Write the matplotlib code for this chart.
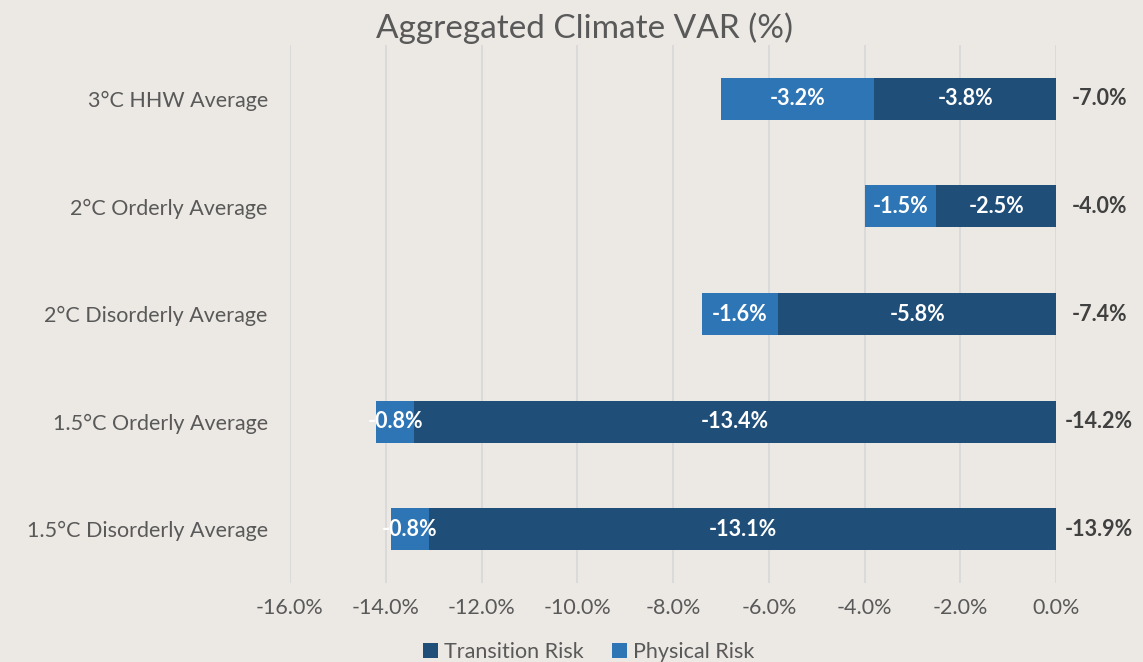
import numpy as np
import matplotlib.pyplot as plt
from matplotlib.ticker import FuncFormatter

plt.rcParams['font.family'] = ['Lato', 'DejaVu Sans']

# data (top row first)
scenarios = ["3°C HHW Average", "2°C Orderly Average", "2°C Disorderly Average",
             "1.5°C Orderly Average", "1.5°C Disorderly Average"]
transition_risk = [-3.8, -2.5, -5.8, -13.4, -13.1]
physical_risk = [-3.2, -1.5, -1.6, -0.8, -0.8]
x_ticks = [-16, -14, -12, -10, -8, -6, -4, -2, 0]

bg = '#ECE9E4'
dark_blue = '#1F4E79'
mid_blue = '#2E75B6'
grey_txt = '#595959'

fig = plt.figure(figsize=(11.43, 6.62), dpi=100, facecolor=bg)
ax = fig.add_axes([0.2537, 0.119, 0.6703, 0.813], facecolor=bg)

y = np.arange(len(scenarios))[::-1]
trans = np.array(transition_risk)
phys = np.array(physical_risk)
total = trans + phys

b1 = ax.barh(y, trans, height=0.39, color=dark_blue, label='Transition Risk', zorder=3)
b2 = ax.barh(y, phys, left=trans, height=0.39, color=mid_blue, label='Physical Risk', zorder=3)

for yi, t, p, tot in zip(y, trans, phys, total):
    ax.text(t / 2, yi, f"{t:.1f}%", ha='center', va='center', color='white',
            fontsize=15.5, fontweight='bold', zorder=4)
    ax.text(t + p / 2, yi, f"{p:.1f}%", ha='center', va='center', color='white',
            fontsize=15.5, fontweight='bold', zorder=4)
    ax.annotate(f"{tot:.1f}%", (0, yi), xytext=(31, 0), textcoords='offset points',
                ha='center', va='center', color='#404040', fontsize=15.5,
                fontweight='bold', annotation_clip=False)

ax.set_xlim(-16, 0)
ax.set_ylim(-0.5, len(scenarios) - 0.5)
ax.set_xticks(x_ticks)
ax.xaxis.set_major_formatter(FuncFormatter(lambda v, _: f"{v:.1f}%"))
ax.set_yticks(y)
ax.set_yticklabels(scenarios)
ax.tick_params(axis='both', length=0, colors=grey_txt, labelsize=15.5)
ax.tick_params(axis='x', pad=11)
ax.tick_params(axis='y', pad=16)
ax.grid(axis='x', color='#D9D9D9', linewidth=1.3, zorder=0)
for s in ax.spines.values():
    s.set_visible(False)

fig.suptitle("Aggregated Climate VAR (%)", x=0.511, y=0.982, fontsize=24, color=grey_txt)

fig.legend(handles=[b1, b2], loc='lower center', bbox_to_anchor=(0.515, -0.03), ncol=2,
           frameon=False, fontsize=15.5, labelcolor=grey_txt, handlelength=0.7,
           handleheight=0.7, handletextpad=0.3, columnspacing=1.3)

fig.savefig('out.png', dpi=100, facecolor=bg)
